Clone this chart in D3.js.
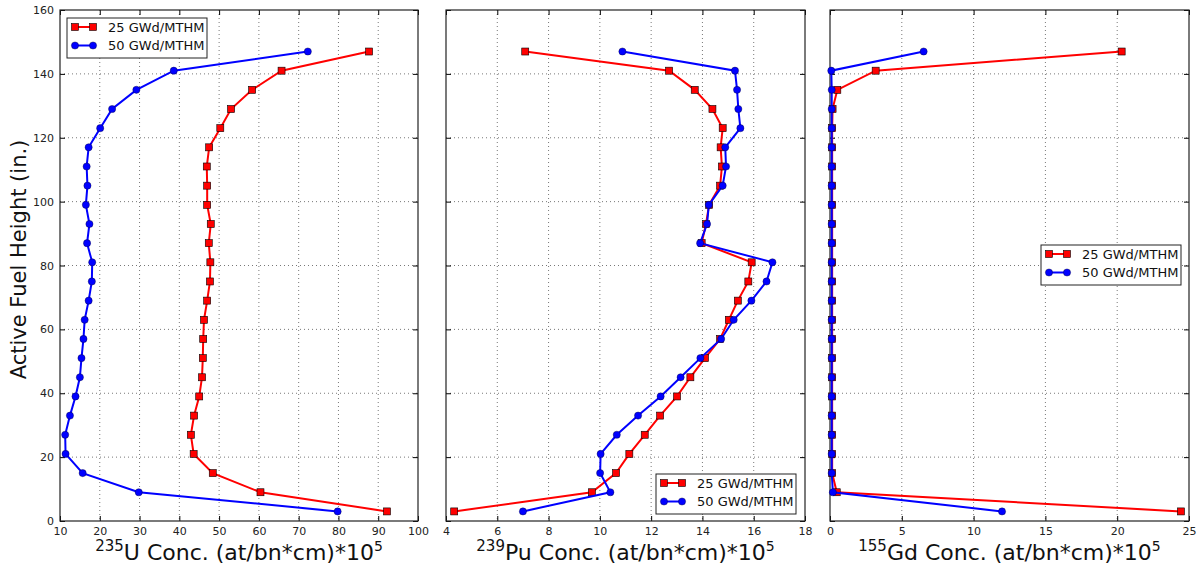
<!DOCTYPE html>
<html>
<head>
<meta charset="utf-8">
<script src="https://cdn.jsdelivr.net/npm/d3@7"></script>
<style>
  body { margin: 0; background: #fff; }
  text { font-family: "DejaVu Sans", sans-serif; }
</style>
</head>
<body>
<script>
const width = 1202;
const height = 571;

// heights of the axial nodes (in.)
const heights = [3, 9, 15, 21, 27, 33, 39, 45, 51, 57, 63, 69, 75, 81, 87, 93, 99, 105, 111, 117, 123, 129, 135, 141, 147];

const u235_25 = [92.2, 60.4, 48.4, 43.6, 42.9, 43.7, 45.0, 45.7, 45.9, 46.0, 46.2, 47.0, 47.7, 47.8, 47.4, 47.9, 47.0, 47.0, 46.9, 47.5, 50.3, 53.0, 58.3, 65.7, 87.7];
const u235_50 = [79.8, 29.8, 15.7, 11.4, 11.3, 12.5, 13.9, 15.0, 15.4, 15.9, 16.2, 17.2, 18.0, 18.1, 16.8, 17.4, 16.5, 16.9, 16.7, 17.2, 20.1, 23.1, 29.2, 38.6, 72.3];

const pu239_25 = [4.32, 9.69, 10.63, 11.15, 11.75, 12.35, 13.01, 13.53, 14.10, 14.69, 15.03, 15.38, 15.79, 15.92, 13.97, 14.14, 14.26, 14.69, 14.76, 14.71, 14.79, 14.39, 13.70, 12.70, 7.09];
const pu239_50 = [7.00, 10.41, 10.01, 10.03, 10.66, 11.49, 12.37, 13.15, 13.92, 14.73, 15.22, 15.91, 16.50, 16.73, 13.91, 14.18, 14.25, 14.79, 14.92, 14.89, 15.48, 15.40, 15.35, 15.27, 10.88];

const gd155_25 = [24.44, 0.47, 0.15, 0.15, 0.15, 0.15, 0.15, 0.15, 0.15, 0.15, 0.15, 0.15, 0.15, 0.15, 0.15, 0.15, 0.15, 0.15, 0.15, 0.15, 0.15, 0.18, 0.51, 3.18, 20.31];
const gd155_50 = [11.98, 0.2, 0.12, 0.12, 0.12, 0.12, 0.12, 0.12, 0.12, 0.12, 0.12, 0.12, 0.12, 0.12, 0.12, 0.12, 0.12, 0.12, 0.12, 0.12, 0.12, 0.12, 0.12, 0.09, 6.52];

const seriesNames = ["25 GWd/MTHM", "50 GWd/MTHM"];
const yTicks = [0, 20, 40, 60, 80, 100, 120, 140, 160];

const panels = [
    { left: 60, right: 418, domain: [10, 100], ticks: d3.range(10, 101, 10), iso: "235", el: "U",
      a: u235_25, b: u235_50, legend: { x: 67, y: 18 }, yLabels: true },
    { left: 446, right: 805, domain: [4, 18], ticks: d3.range(4, 19, 2), iso: "239", el: "Pu",
      a: pu239_25, b: pu239_50, legend: { x: 656, y: 474 }, yLabels: false },
    { left: 830, right: 1189, domain: [0, 25], ticks: d3.range(0, 26, 5), iso: "155", el: "Gd",
      a: gd155_25, b: gd155_50, legend: { x: 1041, y: 245 }, yLabels: false }
];

const plotTop = 10, plotBottom = 521;

const svg = d3.select("body")
    .append("svg")
    .attr("width", width)
    .attr("height", height);

const y = d3.scaleLinear().domain([0, 160]).range([plotBottom, plotTop]);

panels.forEach(p => {
    const x = d3.scaleLinear().domain(p.domain).range([p.left, p.right]);
    const g = svg.append("g");

    // grid
    g.selectAll(".gx").data(p.ticks.slice(1, -1)).join("line")
        .attr("x1", d => x(d)).attr("x2", d => x(d))
        .attr("y1", plotTop).attr("y2", plotBottom)
        .attr("stroke", "#555").attr("stroke-width", 0.8)
        .attr("stroke-dasharray", "1,3");
    g.selectAll(".gy").data(yTicks.slice(1, -1)).join("line")
        .attr("x1", p.left).attr("x2", p.right)
        .attr("y1", d => y(d)).attr("y2", d => y(d))
        .attr("stroke", "#555").attr("stroke-width", 0.8)
        .attr("stroke-dasharray", "1,3");

    // axes with inward ticks
    const xAxisB = d3.axisBottom(x).tickValues(p.ticks).tickSize(-5).tickPadding(6).tickFormat(d3.format("d"));
    const xAxisT = d3.axisTop(x).tickValues(p.ticks).tickSize(-5).tickFormat("");
    const yAxisL = d3.axisLeft(y).tickValues(yTicks).tickSize(-5).tickPadding(6)
        .tickFormat(p.yLabels ? d3.format("d") : "");
    const yAxisR = d3.axisRight(y).tickValues(yTicks).tickSize(-5).tickFormat("");

    [[xAxisB, `translate(0,${plotBottom})`], [xAxisT, `translate(0,${plotTop})`],
     [yAxisL, `translate(${p.left},0)`], [yAxisR, `translate(${p.right},0)`]].forEach(([ax, tr]) => {
        const a = g.append("g").attr("transform", tr).call(ax);
        a.select(".domain").remove();
        a.selectAll("line").attr("stroke", "#000");
        a.selectAll("text").attr("font-size", 11).attr("fill", "#222")
            .attr("font-family", "DejaVu Sans, sans-serif");
    });

    // frame
    g.append("rect")
        .attr("x", p.left).attr("y", plotTop)
        .attr("width", p.right - p.left).attr("height", plotBottom - plotTop)
        .attr("fill", "none").attr("stroke", "#222").attr("stroke-width", 1.2);

    const line = d3.line().x(d => x(d[0])).y(d => y(d[1]));

    const redPts = p.a.map((v, i) => [v, heights[i]]);
    const bluePts = p.b.map((v, i) => [v, heights[i]]);

    g.append("path").datum(redPts).attr("d", line)
        .attr("fill", "none").attr("stroke", "#ff0000").attr("stroke-width", 2);
    g.selectAll(".sq").data(redPts).join("rect")
        .attr("x", d => x(d[0]) - 3.5).attr("y", d => y(d[1]) - 3.5)
        .attr("width", 7).attr("height", 7)
        .attr("fill", "#ff0000").attr("stroke", "#000").attr("stroke-width", 0.6);

    g.append("path").datum(bluePts).attr("d", line)
        .attr("fill", "none").attr("stroke", "#0000ff").attr("stroke-width", 2);
    g.selectAll(".ci").data(bluePts).join("circle")
        .attr("cx", d => x(d[0])).attr("cy", d => y(d[1])).attr("r", 3.6)
        .attr("fill", "#0000ff").attr("stroke", "#000033").attr("stroke-width", 0.4);

    // x label with superscripts
    const lbl = g.append("text")
        .attr("x", (p.left + p.right) / 2)
        .attr("y", 560)
        .attr("text-anchor", "middle")
        .attr("font-size", 22)
        .attr("fill", "#111");
    lbl.append("tspan").attr("font-size", 15).attr("dy", -9).text(p.iso);
    lbl.append("tspan").attr("dy", 9).text(`${p.el} Conc. (at/bn*cm)*10`);
    lbl.append("tspan").attr("font-size", 14).attr("dy", -9).text("5");

    // legend
    const lg = g.append("g").attr("transform", `translate(${p.legend.x},${p.legend.y})`);
    lg.append("rect").attr("width", 140).attr("height", 40)
        .attr("fill", "#fff").attr("stroke", "#222").attr("stroke-width", 1);
    seriesNames.forEach((name, i) => {
        const ly = 9 + i * 18.5;
        lg.append("line").attr("x1", 8).attr("x2", 26).attr("y1", ly).attr("y2", ly)
            .attr("stroke", i === 0 ? "#ff0000" : "#0000ff").attr("stroke-width", 2);
        [8, 26].forEach(mx => {
            if (i === 0) {
                lg.append("rect").attr("x", mx - 3.5).attr("y", ly - 3.5).attr("width", 7).attr("height", 7)
                    .attr("fill", "#ff0000").attr("stroke", "#000").attr("stroke-width", 0.6);
            } else {
                lg.append("circle").attr("cx", mx).attr("cy", ly).attr("r", 3.6)
                    .attr("fill", "#0000ff").attr("stroke", "#000033").attr("stroke-width", 0.4);
            }
        });
        lg.append("text").attr("x", 41).attr("y", ly).attr("dy", "0.35em")
            .attr("font-size", 13).attr("fill", "#111").text(name);
    });
});

// y label
svg.append("text")
    .attr("transform", `translate(26,${(plotTop + plotBottom) / 2 - 6}) rotate(-90)`)
    .attr("text-anchor", "middle")
    .attr("font-size", 21)
    .attr("fill", "#111")
    .text("Active Fuel Height (in.)");
</script>
</body>
</html>
